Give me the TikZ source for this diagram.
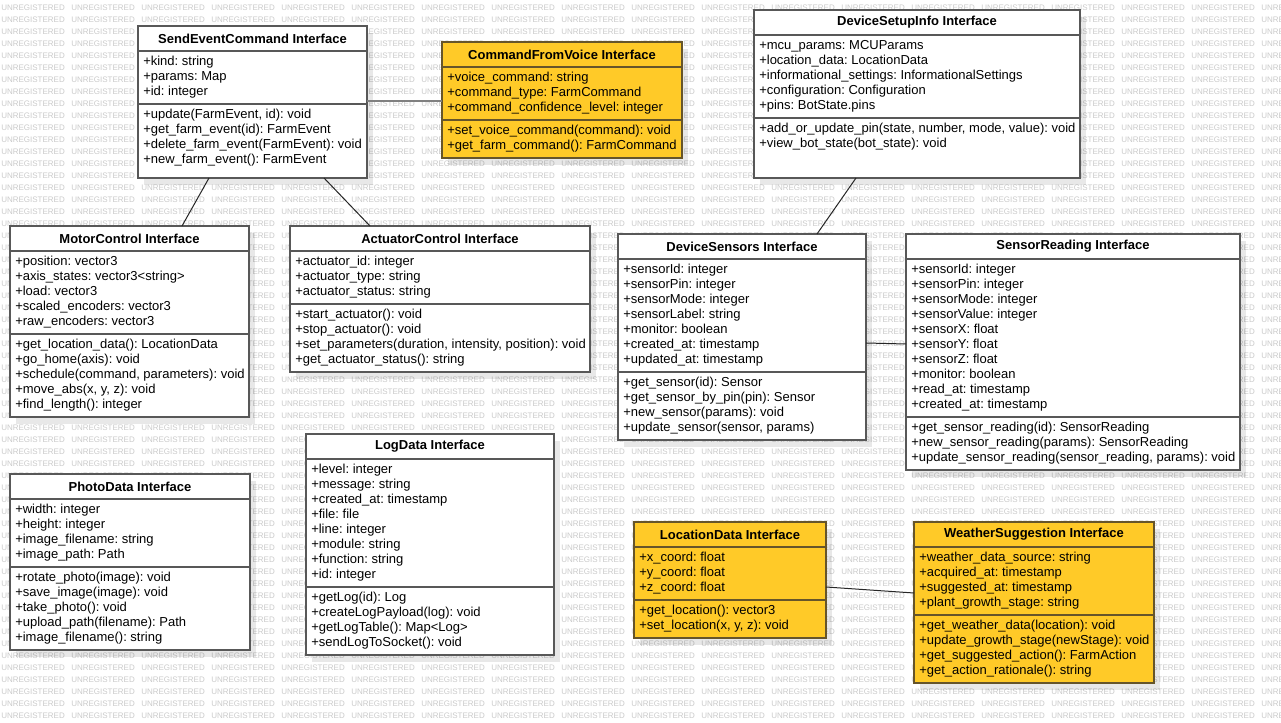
\documentclass[tikz,border=0pt]{standalone}
\usepackage{fontspec}
\setmainfont{Liberation Sans}
\usetikzlibrary{calc}
\frenchspacing
\definecolor{yfill}{HTML}{FFCA28}
\definecolor{ydraw}{HTML}{66552A}
\definecolor{wdraw}{HTML}{585858}
\definecolor{wmark}{HTML}{CBCBCB}
\tikzset{
  classbox/.style={draw=wdraw, fill=white, line width=1.5pt, rectangle, inner sep=0pt, outer sep=0pt},
  yellowbox/.style={draw=ydraw, fill=yfill},
  plainbox/.style={},
  shadowfill/.style={fill=black, opacity=0.09},
  ttl/.style={font=\bfseries\fontsize{9.75}{11.25}\selectfont, inner sep=0pt},
  attr/.style={font=\fontsize{9.75}{11.25}\selectfont, anchor=north west, align=left, inner sep=0pt},
  wm/.style={font=\fontsize{6}{7}\selectfont, text=wmark, inner sep=0pt, anchor=west},
  conn/.style={draw=black!85, line width=0.75pt},
  conngray/.style={draw=black!50, line width=1.3pt}
}
\newcommand\umlclass[9]{%
  \xdef\umlN{#2}\xdef\umlL{#3}\xdef\umlS{#7}\xdef\umlR{#5}%
  \fill[shadowfill] (#3+6,#4+7) rectangle (#5+6,#6+7);
  \node[classbox,#1,anchor=north west,minimum width={(#5-#3)*0.75pt},minimum height={(#6-#4)*0.75pt}] (#2) at (#3,#4) {};
  \draw[classbox,#1,fill=none] (#3,#4+25) -- (#5,#4+25);
  \draw[classbox,#1,fill=none] (#3,#7) -- (#5,#7);
  \node[ttl] (#2-t) at ({(#3+#5)/2},#4+12.5) {#8};
  \node[attr] (#2-a) at (#3+5,#4+25+4) {\strut#9};
}
\newcommand\umlmeth[1]{%
  \node[attr] (\umlN-m) at (\umlL+5,\umlS+4) {\strut#1};
}
\begin{document}
\begin{tikzpicture}[x=0.75pt,y=-0.75pt]
\useasboundingbox (0,0) rectangle (1281,723);
\fill[white] (0,0) rectangle (1281,723);
% watermark
\foreach \r in {0,...,59} {
  \foreach \c in {0,...,18} {
    \node[wm] (wm-\r-\c) at (\c*70+1,8+\r*12) {UNREGISTERED};
  }
}
% classes
\umlclass{plainbox}{sec}{138}{26}{367}{178}{104}{SendEventCommand Interface}
  {+kind: string\\+params: Map\\+id: integer}
\umlmeth{+update(FarmEvent, id): void\\+get\_farm\_event(id): FarmEvent\\+delete\_farm\_event(FarmEvent): void\\+new\_farm\_event(): FarmEvent}

\umlclass{yellowbox}{cfv}{442}{42}{682}{158}{120}{CommandFromVoice Interface}
  {+voice\_command: string\\+command\_type: FarmCommand\\+command\_confidence\_level: integer}
\umlmeth{+set\_voice\_command(command): void\\+get\_farm\_command(): FarmCommand}

\umlclass{plainbox}{dsi}{754}{10}{1080}{178}{118}{DeviceSetupInfo Interface}
  {+mcu\_params: MCUParams\\+location\_data: LocationData\\+informational\_settings: InformationalSettings\\+configuration: Configuration\\+pins: BotState.pins}
\umlmeth{+add\_or\_update\_pin(state, number, mode, value): void\\+view\_bot\_state(bot\_state): void}

\umlclass{plainbox}{mc}{10}{226}{249}{417}{334}{MotorControl Interface}
  {+position: vector3\\+axis\_states: vector3<string>\\+load: vector3\\+scaled\_encoders: vector3\\+raw\_encoders: vector3}
\umlmeth{+get\_location\_data(): LocationData\\+go\_home(axis): void\\+schedule(command, parameters): void\\+move\_abs(x, y, z): void\\+find\_length(): integer}

\umlclass{plainbox}{ac}{290}{226}{590}{372}{304}{ActuatorControl Interface}
  {+actuator\_id: integer\\+actuator\_type: string\\+actuator\_status: string}
\umlmeth{+start\_actuator(): void\\+stop\_actuator(): void\\+set\_parameters(duration, intensity, position): void\\+get\_actuator\_status(): string}

\umlclass{plainbox}{ds}{618}{234}{866}{440}{372}{DeviceSensors Interface}
  {+sensorId: integer\\+sensorPin: integer\\+sensorMode: integer\\+sensorLabel: string\\+monitor: boolean\\+created\_at: timestamp\\+updated\_at: timestamp}
\umlmeth{+get\_sensor(id): Sensor\\+get\_sensor\_by\_pin(pin): Sensor\\+new\_sensor(params): void\\+update\_sensor(sensor, params)}

\umlclass{plainbox}{sr}{906}{234}{1240}{470}{417}{SensorReading Interface}
  {+sensorId: integer\\+sensorPin: integer\\+sensorMode: integer\\+sensorValue: integer\\+sensorX: float\\+sensorY: float\\+sensorZ: float\\+monitor: boolean\\+read\_at: timestamp\\+created\_at: timestamp}
\umlmeth{+get\_sensor\_reading(id): SensorReading\\+new\_sensor\_reading(params): SensorReading\\+update\_sensor\_reading(sensor\_reading, params): void}

\umlclass{plainbox}{pd}{10}{474}{250}{650}{567}{PhotoData Interface}
  {+width: integer\\+height: integer\\+image\_filename: string\\+image\_path: Path}
\umlmeth{+rotate\_photo(image): void\\+save\_image(image): void\\+take\_photo(): void\\+upload\_path(filename): Path\\+image\_filename(): string}

\umlclass{plainbox}{ld}{306}{434}{554}{655}{587}{LogData Interface}
  {+level: integer\\+message: string\\+created\_at: timestamp\\+file: file\\+line: integer\\+module: string\\+function: string\\+id: integer}
\umlmeth{+getLog(id): Log\\+createLogPayload(log): void\\+getLogTable(): Map<Log>\\+sendLogToSocket(): void}

\umlclass{yellowbox}{loc}{634}{522}{826}{638}{600}{LocationData Interface}
  {+x\_coord: float\\+y\_coord: float\\+z\_coord: float}
\umlmeth{+get\_location(): vector3\\+set\_location(x, y, z): void}

\umlclass{yellowbox}{ws}{914}{522}{1154}{683}{615}{WeatherSuggestion Interface}
  {+weather\_data\_source: string\\+acquired\_at: timestamp\\+suggested\_at: timestamp\\+plant\_growth\_stage: string}
\umlmeth{+get\_weather\_data(location): void\\+update\_growth\_stage(newStage): void\\+get\_suggested\_action(): FarmAction\\+get\_action\_rationale(): string}

% connectors
\draw[conn] ($(sec.south west)+(71,0)$) -- ($(mc.north west)+(172,0)$);
\draw[conn] ($(sec.south west)+(186,0)$) -- ($(ac.north west)+(80,0)$);
\draw[conngray] ($(sec.north east)+(0,75)$) -- ($(cfv.north west)+(0,59)$);
\draw[conn] ($(dsi.south west)+(102,0)$) -- ($(ds.north west)+(199,0)$);
\draw[conn] ($(ds.north east)+(0,109)$) -- ($(sr.north west)+(0,110)$);
\draw[conn] ($(loc.north east)+(0,65)$) -- ($(ws.north west)+(0,71)$);
\end{tikzpicture}
\end{document}
